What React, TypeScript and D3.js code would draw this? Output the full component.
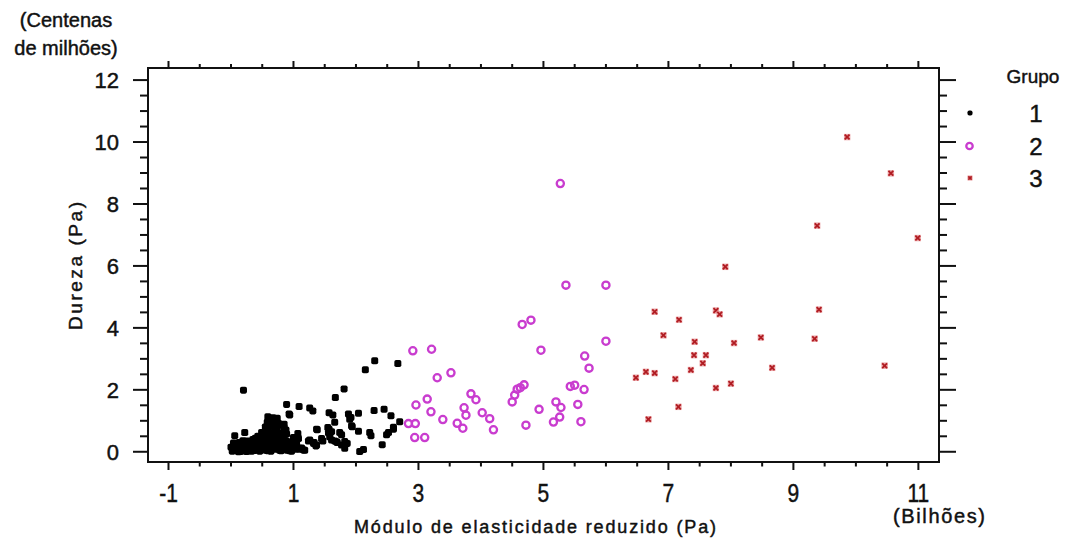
import React from "react";
import * as d3 from "d3";

// Grupo 1: (módulo em bilhões de Pa, dureza em centenas de milhões de Pa)
const grupo1: [number, number][] = [
  [0.20, 1.99], [2.15, 2.65], [2.30, 2.94], [2.67, 2.85], [1.81, 2.03], [1.67, 1.75],
  [0.89, 1.53], [1.09, 1.46], [1.26, 1.41], [1.31, 1.32], [0.93, 1.22], [1.57, 1.26],
  [1.63, 1.19], [1.88, 1.22], [2.04, 1.24], [2.29, 1.33], [2.45, 1.37], [2.56, 1.16],
  [2.70, 0.97], [1.90, 1.05], [1.92, 1.11], [1.66, 0.95], [1.93, 0.84], [1.94, 0.81],
  [2.04, 0.66], [2.22, 0.62], [2.24, 0.52], [2.52, 0.62], [2.49, 0.55], [2.60, 0.73],
  [2.60, 0.79], [2.42, 0.23], [2.12, 0.07], [2.06, 0.01], [1.74, 0.62], [1.77, 0.55],
  [1.57, 0.73], [1.61, 0.65], [1.55, 0.78], [1.56, 0.61], [1.38, 0.71], [1.66, 0.35],
  [1.70, 0.30], [1.86, 0.27], [1.82, 0.33], [1.82, 0.11], [1.77, 0.22], [1.37, 0.73],
  [1.47, 0.35], [1.45, 0.43], [1.33, 0.30], [1.36, 0.19], [1.24, 0.35], [1.26, 0.38],
  [1.32, 0.27], [1.37, 0.22], [1.58, 0.48], [1.61, 0.38], [1.69, 0.32], [1.13, 0.12],
  [1.10, 0.08], [1.18, 0.05], [1.16, 0.06], [1.07, 0.59], [1.08, 0.43], [1.05, 0.27],
  [1.10, 0.11], [1.00, 0.46], [1.02, 0.30], [0.89, 0.57], [0.88, 0.70], [0.85, 0.89],
  [0.85, 0.78], [0.84, 0.84], [0.87, 0.57], [0.94, 1.19], [0.59, 1.13],
  [0.02, 0.02], [0.05, 0.10], [0.08, 0.04], [0.10, 0.18], [0.12, 0.00], [0.14, 0.08],
  [0.16, 0.26], [0.18, 0.12], [0.20, 0.03], [0.22, 0.20], [0.24, 0.10], [0.26, 0.35],
  [0.28, 0.05], [0.30, 0.15], [0.31, 0.28], [0.33, 0.02], [0.35, 0.40], [0.36, 0.12],
  [0.38, 0.22], [0.40, 0.06], [0.41, 0.33], [0.43, 0.50], [0.44, 0.15], [0.46, 0.02],
  [0.47, 0.27], [0.49, 0.62], [0.50, 0.10], [0.52, 0.38], [0.53, 0.20], [0.55, 0.80],
  [0.56, 0.05], [0.57, 0.48], [0.58, 0.95], [0.60, 0.30], [0.61, 0.14], [0.62, 1.05],
  [0.63, 0.60], [0.64, 0.02], [0.65, 0.85], [0.66, 0.40], [0.67, 1.10], [0.68, 0.22],
  [0.70, 0.70], [0.71, 1.02], [0.72, 0.08], [0.73, 0.50], [0.75, 0.32], [0.76, 0.92],
  [0.78, 0.15], [0.79, 0.60], [0.80, 0.03], [0.82, 0.42], [0.84, 0.25], [0.86, 0.10],
  [0.88, 0.35], [0.90, 0.05], [0.92, 0.20], [0.95, 0.12], [0.97, 0.02], [1.00, 0.18],
  [0.06, 0.52], [0.22, 0.62], [0.00, 0.15], [0.04, 0.28], [0.27, 0.18], [0.45, 0.38],
  [0.03, 0.06], [0.07, 0.20], [0.11, 0.09], [0.13, 0.30], [0.15, 0.01], [0.17, 0.17],
  [0.19, 0.36], [0.21, 0.07], [0.23, 0.28], [0.25, 0.01], [0.29, 0.24], [0.32, 0.09],
  [0.34, 0.31], [0.37, 0.04], [0.39, 0.44], [0.42, 0.11], [0.45, 0.24], [0.48, 0.06],
  [0.51, 0.30], [0.54, 0.13], [0.55, 0.55], [0.58, 0.22], [0.59, 0.03], [0.60, 0.72],
  [0.62, 0.38], [0.64, 0.50], [0.66, 0.12], [0.68, 0.95], [0.69, 0.30], [0.71, 0.55],
  [0.73, 0.20], [0.74, 0.78], [0.77, 0.40], [0.78, 0.05], [0.81, 0.26], [0.83, 0.12],
  [0.85, 0.45], [0.87, 0.22], [0.91, 0.32], [0.94, 0.03], [0.98, 0.28], [1.03, 0.08],
  [0.63, 0.90], [0.69, 1.05], [0.74, 1.08], [0.57, 0.68], [0.52, 0.48], [0.47, 0.42],
];

const grupo2: [number, number][] = [
  [5.27, 8.66], [5.36, 5.38], [6.00, 5.38], [4.66, 4.11], [4.80, 4.25], [6.00, 3.57],
  [2.91, 3.26], [3.21, 3.31], [4.96, 3.28], [5.66, 3.09], [5.73, 2.70], [3.30, 2.39],
  [3.52, 2.55], [5.43, 2.11], [5.50, 2.15], [5.65, 2.01], [4.69, 2.16], [4.63, 2.07],
  [4.58, 2.02], [4.54, 1.83], [4.50, 1.61], [3.84, 1.87], [3.92, 1.68], [3.14, 1.70],
  [2.96, 1.51], [3.20, 1.29], [3.73, 1.42], [3.76, 1.18], [3.39, 1.04], [4.02, 1.26],
  [4.14, 1.07], [3.62, 0.92], [3.71, 0.76], [4.20, 0.71], [4.93, 1.37], [5.20, 1.61],
  [5.28, 1.43], [5.55, 1.53], [5.26, 1.12], [5.16, 0.96], [5.60, 0.97], [4.72, 0.86],
  [2.84, 0.91], [2.95, 0.91], [2.94, 0.46], [3.10, 0.46],
];

const grupo3: [number, number][] = [
  [9.86, 10.16], [10.56, 8.99], [9.38, 7.30], [10.99, 6.90], [7.91, 5.97], [6.78, 4.52],
  [7.17, 4.26], [7.76, 4.56], [7.82, 4.44], [9.41, 4.59], [6.92, 3.76], [7.42, 3.55],
  [8.05, 3.51], [8.48, 3.69], [9.34, 3.65], [7.41, 3.12], [7.60, 3.12], [7.55, 2.86],
  [7.36, 2.64], [6.64, 2.58], [6.78, 2.54], [6.48, 2.39], [7.11, 2.35], [8.66, 2.71],
  [10.46, 2.78], [7.76, 2.06], [8.00, 2.20], [7.16, 1.45], [6.68, 1.05],
];

const xTickLabels = [-1, 1, 3, 5, 7, 9, 11];
const yTickLabels = [0, 2, 4, 6, 8, 10, 12];
const grupos = ["1", "2", "3"];

const W = 1070;
const H = 542;
const L = 148, R = 939, T = 68, B = 462;

const MAGENTA = "#c93ccf";
const RED_DARK = "#b01c22";
const RED_LIGHT = "#eba2a4";
const INK = "#111";
const FONT = "'Liberation Sans', Arial, sans-serif";

const x = d3.scaleLinear().domain([-1.328, 11.33]).range([L, R]);
const y = d3.scaleLinear().domain([-0.33, 12.39]).range([B, T]);

const xTicks = d3.range(-1, 11.001, 0.5);
const yTicks = d3.range(0, 12.001, 0.5);
const isMajorX = (v: number) => Math.abs((v + 1) / 2 - Math.round((v + 1) / 2)) < 1e-6;
const isMajorY = (v: number) => Math.abs(v / 2 - Math.round(v / 2)) < 1e-6;

// texto com leve contorno para ficar mais encorpado
const inkText = { fill: INK, stroke: INK, strokeWidth: 0.45 } as const;

function Dot({ cx, cy, s = 7 }: { cx: number; cy: number; s?: number }) {
  return <rect x={cx - s / 2} y={cy - s / 2} width={s} height={s} rx={1.8} fill="#000" />;
}

function Ring({ cx, cy, r = 3.6 }: { cx: number; cy: number; r?: number }) {
  return <circle cx={cx} cy={cy} r={r} fill="none" stroke={MAGENTA} strokeWidth={2.3} />;
}

function Cross({ cx, cy, s = 6.4 }: { cx: number; cy: number; s?: number }) {
  const h = s / 2;
  const k = 0.8;
  return (
    <g>
      <rect x={cx - h} y={cy - h} width={s} height={s} fill={RED_LIGHT} />
      <path
        d={`M${cx - h + k},${cy - h + k}L${cx + h - k},${cy + h - k}M${cx + h - k},${cy - h + k}L${cx - h + k},${cy + h - k}`}
        stroke={RED_DARK}
        strokeWidth={1.8}
      />
    </g>
  );
}

export default function App() {
  return (
    <div style={{ position: "fixed", left: 0, top: 0, width: W, height: H, background: "#fff" }}>
      <svg width={W} height={H} style={{ display: "block" }} fontFamily={FONT}>
        <rect width={W} height={H} fill="#fff" />

        {/* marcas */}
        {grupo1.map(([a, b], i) => (
          <Dot key={"g1" + i} cx={x(a)} cy={y(b)} />
        ))}
        {grupo2.map(([a, b], i) => (
          <Ring key={"g2" + i} cx={x(a)} cy={y(b)} />
        ))}
        {grupo3.map(([a, b], i) => (
          <Cross key={"g3" + i} cx={x(a)} cy={y(b)} />
        ))}

        {/* moldura */}
        <rect x={L} y={T} width={R - L} height={B - T} fill="none" stroke={INK} strokeWidth={2} />

        {/* ticks */}
        <g stroke={INK} strokeWidth={2}>
          {xTicks.map((v) => {
            const px = x(v);
            const maj = isMajorX(v);
            return (
              <g key={"xt" + v}>
                <line x1={px} x2={px} y1={B} y2={B + (maj ? 8 : 4.5)} />
                <line x1={px} x2={px} y1={T} y2={T - (maj ? 7 : 4)} />
              </g>
            );
          })}
          {yTicks.map((v) => {
            const py = y(v);
            const maj = isMajorY(v);
            return (
              <g key={"yt" + v}>
                <line x1={L} x2={L - (maj ? 15 : 8)} y1={py} y2={py} />
                <line x1={R} x2={R + (maj ? 17 : 8)} y1={py} y2={py} />
              </g>
            );
          })}
        </g>

        {/* rótulos do eixo x */}
        {xTickLabels.map((v) => (
          <text
            key={"xl" + v}
            transform={`translate(${x(v)},502) scale(0.84,1)`}
            textAnchor="middle"
            fontSize={25}
            {...inkText}
          >
            {v}
          </text>
        ))}
        {/* rótulos do eixo y */}
        {yTickLabels.map((v) => (
          <text key={"yl" + v} x={119} y={y(v) + 8} textAnchor="end" fontSize={22} {...inkText}>
            {v}
          </text>
        ))}

        {/* títulos */}
        <text x={535} y={533} textAnchor="middle" fontSize={18} {...inkText} textLength={362} lengthAdjust="spacing">
          Módulo de elasticidade reduzido (Pa)
        </text>
        <text x={939} y={523} textAnchor="middle" fontSize={20} {...inkText} textLength={92} lengthAdjust="spacing">
          (Bilhões)
        </text>
        <text
          transform="translate(82,266) rotate(-90)"
          textAnchor="middle"
          fontSize={19}
          {...inkText}
          textLength={128}
          lengthAdjust="spacing"
        >
          Dureza (Pa)
        </text>
        <text x={66} y={27} textAnchor="middle" fontSize={20} {...inkText}>
          (Centenas
        </text>
        <text x={66} y={55} textAnchor="middle" fontSize={20} {...inkText}>
          de milhões)
        </text>

        {/* legenda */}
        <text x={1033} y={83} textAnchor="middle" fontSize={19} {...inkText}>
          Grupo
        </text>
        {grupos.map((g, i) => {
          const cy = [113, 146, 178][i];
          return (
            <g key={"lg" + g}>
              {i === 0 && <Dot cx={970} cy={cy} s={5} />}
              {i === 1 && <Ring cx={969.5} cy={cy} r={3.2} />}
              {i === 2 && <Cross cx={970} cy={cy} s={5} />}
              <text x={1036} y={cy + 9} textAnchor="middle" fontSize={24} {...inkText}>
                {g}
              </text>
            </g>
          );
        })}
      </svg>
    </div>
  );
}
